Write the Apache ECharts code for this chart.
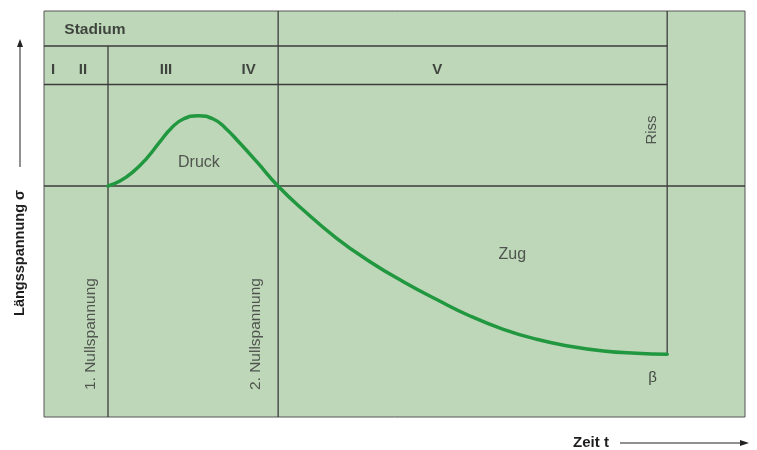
<!DOCTYPE html>
<html>
<head>
<meta charset="utf-8">
<script src="https://cdn.jsdelivr.net/npm/echarts@6/dist/echarts.min.js"></script>
<style>
	html, body { margin: 0; padding: 0; background: #fff; }
	#chart { width: 757px; height: 450px; }
</style>
</head>
<body>
<div id="chart"></div>
<script>
	var curve = [
		[9.13, 0], [10.84, 1.4], [12.74, 4.1], [14.65, 7.91], [16.55, 12.66],
		[18.22, 16.66], [19.87, 19.14], [22.01, 20.09], [24.15, 19.14], [25.82, 16.66],
		[27.96, 12.2], [30.34, 6.94], [33.38, 0], [36.99, -6.86], [41.75, -14.94],
		[46.5, -21.63], [51.26, -27.34], [56.02, -32.43], [60.77, -37.14], [65.52, -40.94],
		[70.28, -43.8], [75.04, -45.8], [79.79, -47.14], [84.55, -47.8], [88.9, -48.09]
	];
	// Phasengrenzen
	var tNull1 = 9.13, tNull2 = 33.4, tRiss = 88.9;
	var rowTop = 40, rowMid = 29;
	var xMin = 0, xMax = 100, yMin = -66, yMax = 50;

	var stages = ['I', 'II', 'III', 'IV', 'V'];
	var stageX = [1.28, 5.56, 17.4, 29.2, 56.1];
	var stageY = 33.1;

	var dividers = [
		[[xMin, rowTop], [tRiss, rowTop]],
		[[xMin, rowMid], [tRiss, rowMid]],
		[[xMin, 0], [xMax, 0]],
		[[tNull1, rowTop], [tNull1, yMin]],
		[[tNull2, yMax], [tNull2, yMin]],
		[[tRiss, yMax], [tRiss, -48.09]]
	];

	var font = 'Liberation Sans, Arial, sans-serif';
	var lineColor = '#3c3c3c';

	var series = [];
	dividers.forEach(function(d) {
		series.push({
			type: 'line',
			data: d,
			symbol: 'none',
			silent: true,
			lineStyle: { color: lineColor, width: 1.3 },
			z: 2
		});
	});
	series.push({
		name: 'Längsspannung',
		type: 'line',
		data: curve,
		smooth: 0.5,
		symbol: 'none',
		lineStyle: { color: '#21973f', width: 3.5, cap: 'round' },
		z: 5
	});

	function label(x, y, text, opt) {
		opt = opt || {};
		return {
			value: [x, y],
			label: {
				show: true,
				position: 'inside',
				formatter: text,
				rotate: opt.rotate || 0,
				fontFamily: font,
				fontSize: opt.size || 16,
				fontWeight: opt.bold ? 'bold' : 'normal',
				color: opt.color || '#333',
				align: opt.align || 'center',
				verticalAlign: 'middle'
			}
		};
	}

	var labels = [label(2.9, 44.6, 'Stadium', { bold: true, size: 15.5, align: 'left', color: '#1e1e1e' })];
	stages.forEach(function(s, i) {
		labels.push(label(stageX[i], stageY, s, { bold: true, size: 15, color: '#1e1e1e' }));
	});
	labels.push(label(22.1, 6.6, 'Druck'));
	labels.push(label(66.8, -19.7, 'Zug'));
	labels.push(label(86.7, 16, 'Riss', { rotate: 90, size: 15 }));
	labels.push(label(86.8, -54.9, 'β', { size: 15, color: '#1e1e1e' }));
	labels.push(label(6.7, -42.3, '1. Nullspannung', { rotate: 90, size: 15.5 }));
	labels.push(label(30.17, -42.3, '2. Nullspannung', { rotate: 90, size: 15.5 }));

	series.push({
		type: 'scatter',
		data: labels,
		symbolSize: 1,
		itemStyle: { color: 'rgba(0,0,0,0)' },
		silent: true,
		z: 6
	});

	var chart = echarts.init(document.getElementById('chart'));
	chart.setOption({
		animation: false,
		grid: {
			left: 44, right: 12, top: 11, bottom: 33,
			show: true,
			backgroundColor: '#bed7b9',
			borderColor: '#555',
			borderWidth: 1
		},
		xAxis: {
			type: 'value', min: xMin, max: xMax,
			axisLine: { show: false }, axisTick: { show: false },
			axisLabel: { show: false }, splitLine: { show: false }
		},
		yAxis: {
			type: 'value', min: yMin, max: yMax,
			axisLine: { show: false }, axisTick: { show: false },
			axisLabel: { show: false }, splitLine: { show: false }
		},
		series: series,
		graphic: [{
			type: 'text',
			x: 20, y: 253,
			rotation: Math.PI / 2,
			style: {
				text: 'Längsspannung σ',
				font: 'bold 14.5px ' + font,
				fill: '#1e1e1e',
				align: 'center',
				verticalAlign: 'middle'
			}
		}, {
			type: 'line',
			shape: { x1: 20, y1: 167, x2: 20, y2: 46 },
			style: { stroke: '#222', lineWidth: 1 }
		}, {
			type: 'polygon',
			shape: { points: [[20, 39], [17, 47], [23, 47]] },
			style: { fill: '#222' }
		}, {
			type: 'text',
			x: 591, y: 443,
			style: {
				text: 'Zeit t',
				font: 'bold 15px ' + font,
				fill: '#1e1e1e',
				align: 'center',
				verticalAlign: 'middle'
			}
		}, {
			type: 'line',
			shape: { x1: 620, y1: 443, x2: 742, y2: 443 },
			style: { stroke: '#222', lineWidth: 1 }
		}, {
			type: 'polygon',
			shape: { points: [[749, 443], [740, 440], [740, 446]] },
			style: { fill: '#222' }
		}]
	});
</script>
</body>
</html>
